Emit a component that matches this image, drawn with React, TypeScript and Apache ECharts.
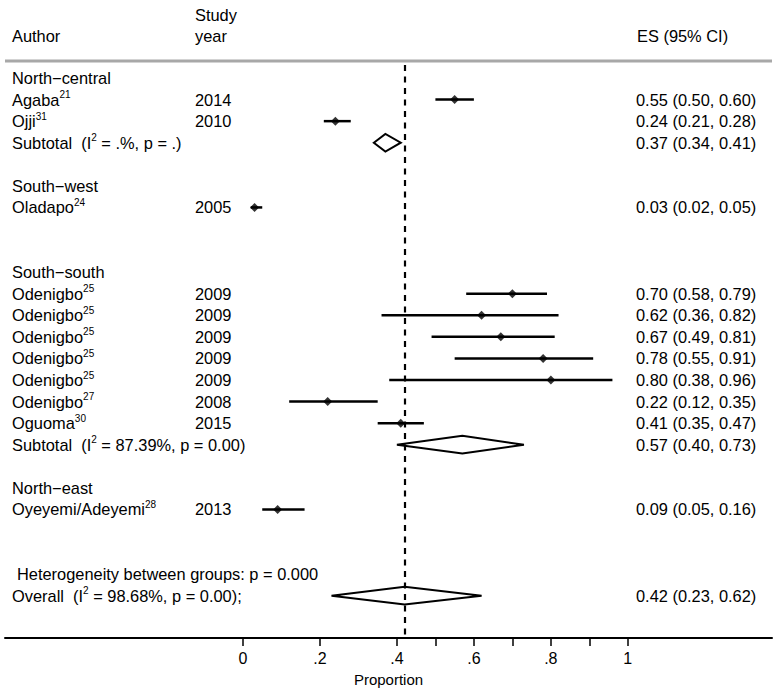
import React, { useEffect, useRef } from "react";
import * as echarts from "echarts";

// ---- data ----
const groupNames = ["North−central", "South−west", "South−south", "North−east"];
const groupRows = [0, 5, 9, 19];

const studyAuthors = [
  "Agaba", "Ojji", "Oladapo", "Odenigbo", "Odenigbo", "Odenigbo",
  "Odenigbo", "Odenigbo", "Odenigbo", "Oguoma", "Oyeyemi/Adeyemi",
];
const studyRefs = ["21", "31", "24", "25", "25", "25", "25", "25", "27", "30", "28"];
const studyYears = ["2014", "2010", "2005", "2009", "2009", "2009", "2009", "2009", "2008", "2015", "2013"];
const studyRows = [1, 2, 6, 10, 11, 12, 13, 14, 15, 16, 20];
const studyES = [0.55, 0.24, 0.03, 0.7, 0.62, 0.67, 0.78, 0.8, 0.22, 0.41, 0.09];
const studyLo = [0.5, 0.21, 0.02, 0.58, 0.36, 0.49, 0.55, 0.38, 0.12, 0.35, 0.05];
const studyHi = [0.6, 0.28, 0.05, 0.79, 0.82, 0.81, 0.91, 0.96, 0.35, 0.47, 0.16];

const pooledPrefix = ["Subtotal", "Subtotal", "Overall"];
const pooledI2 = [".%", "87.39%", "98.68%"];
const pooledP = [".", "0.00", "0.00"];
const pooledSuffix = ["", "", ";"];
const pooledRows = [3, 17, 24];
const pooledES = [0.37, 0.57, 0.42];
const pooledLo = [0.34, 0.4, 0.23];
const pooledHi = [0.41, 0.73, 0.62];

const hetText = "Heterogeneity between groups: p = 0.000";
const hetRow = 23;

const tickValues = [0, 0.2, 0.4, 0.5, 0.6, 0.7, 0.8, 0.9, 1];
const labelValues = [0, 0.2, 0.4, 0.6, 0.8, 1];

// ---- style ----
const FONT = "'Liberation Sans', Arial, Helvetica, sans-serif";
const FS = 16.4;
const rich = {
  n: { fontSize: FS, lineHeight: 20, fontFamily: FONT, color: "#000" },
  s: { fontSize: 10, lineHeight: 11, verticalAlign: "top", fontFamily: FONT, color: "#000" },
};
const fmt = (v: number) => v.toFixed(2);
const esText = (e: number, l: number, h: number) => `${fmt(e)} (${fmt(l)}, ${fmt(h)})`;

const COL_AUTHOR = 12;
const COL_YEAR = 195;
const COL_ES = 636;

export default function App() {
  const ref = useRef<HTMLDivElement>(null);

  useEffect(() => {
    if (!ref.current) return;
    const chart = echarts.init(ref.current, undefined, { renderer: "svg" });

    const textItems: number[][] = [];
    groupRows.forEach((r, k) => textItems.push([0, r, 0, k]));
    studyRows.forEach((r, k) => textItems.push([0, r, 1, k]));
    pooledRows.forEach((r, k) => textItems.push([0, r, 2, k]));
    textItems.push([0, hetRow, 3, 0]);

    const mkText = (x: number, y: number, text: string) => ({
      type: "text",
      x,
      y,
      style: { text, rich, align: "left", verticalAlign: "middle", fill: "#000" },
    });

    const option: any = {
      animation: false,
      backgroundColor: "#fff",
      grid: { left: 5, top: 65, width: 767, height: 573, containLabel: false },
      xAxis: {
        type: "value",
        min: -0.6185,
        max: 1.3747,
        axisLine: { show: true, onZero: false, lineStyle: { color: "#000", width: 2 } },
        axisTick: {
          show: true,
          customValues: tickValues,
          length: 8,
          lineStyle: { color: "#000", width: 1.5 },
        },
        axisLabel: {
          customValues: labelValues,
          formatter: (v: number) => (v === 0 ? "0" : v === 1 ? "1" : String(v).replace(/^0/, "")),
          fontSize: 16,
          color: "#000",
          fontFamily: FONT,
          margin: 12,
        },
        splitLine: { show: false },
        name: "Proportion",
        nameLocation: "middle",
        nameGap: 34,
        nameTextStyle: { fontSize: 15, color: "#000", fontFamily: FONT },
      },
      yAxis: {
        type: "value",
        inverse: true,
        min: -0.603,
        max: 25.96,
        show: false,
      },
      graphic: {
        elements: [
          { type: "rect", z: 100, shape: { x: 5, y: 59.5, width: 767, height: 3 }, style: { fill: "#a8a8a8", opacity: 1 } },
          { type: "text", x: COL_AUTHOR, y: 36, style: { text: "Author", fontSize: FS, fontFamily: FONT, fill: "#000", verticalAlign: "middle" } },
          { type: "text", x: COL_YEAR, y: 15, style: { text: "Study", fontSize: FS, fontFamily: FONT, fill: "#000", verticalAlign: "middle" } },
          { type: "text", x: COL_YEAR, y: 36, style: { text: "year", fontSize: FS, fontFamily: FONT, fill: "#000", verticalAlign: "middle" } },
          { type: "text", x: COL_ES + 1, y: 36, style: { text: "ES (95% CI)", fontSize: FS, fontFamily: FONT, fill: "#000", verticalAlign: "middle" } },
        ],
      },
      series: [
        // text columns
        {
          type: "custom",
          z: 1,
          clip: false,
          data: textItems,
          renderItem: (_p: any, api: any) => {
            const row = api.value(1);
            const kind = api.value(2);
            const k = api.value(3);
            const y = api.coord([0, row])[1];
            const children: any[] = [];
            if (kind === 0) {
              children.push(mkText(COL_AUTHOR, y, `{n|${groupNames[k]}}`));
            } else if (kind === 1) {
              children.push(mkText(COL_AUTHOR, y, `{n|${studyAuthors[k]}}{s|${studyRefs[k]}}`));
              children.push(mkText(COL_YEAR, y, `{n|${studyYears[k]}}`));
              children.push(mkText(COL_ES, y, `{n|${esText(studyES[k], studyLo[k], studyHi[k])}}`));
            } else if (kind === 2) {
              children.push(
                mkText(
                  COL_AUTHOR,
                  y,
                  `{n|${pooledPrefix[k]}  (I}{s|2}{n| = ${pooledI2[k]}, p = ${pooledP[k]})${pooledSuffix[k]}}`
                )
              );
              children.push(mkText(COL_ES, y, `{n|${esText(pooledES[k], pooledLo[k], pooledHi[k])}}`));
            } else {
              children.push(mkText(COL_AUTHOR + 5, y, `{n|${hetText}}`));
            }
            return { type: "group", children };
          },
        },
        // confidence intervals
        {
          type: "custom",
          z: 3,
          data: studyRows.map((r, k) => [studyLo[k], studyHi[k], r]),
          renderItem: (_p: any, api: any) => {
            const a = api.coord([api.value(0), api.value(2)]);
            const b = api.coord([api.value(1), api.value(2)]);
            return {
              type: "line",
              shape: { x1: a[0], y1: a[1], x2: b[0], y2: b[1] },
              style: { stroke: "#000", lineWidth: 2.5 },
            };
          },
        },
        // pooled diamonds
        {
          type: "custom",
          z: 2,
          data: pooledRows.map((r, k) => [pooledLo[k], pooledES[k], pooledHi[k], r]),
          renderItem: (_p: any, api: any) => {
            const r = api.value(3);
            const h = 0.41;
            const pts = [
              api.coord([api.value(0), r]),
              api.coord([api.value(1), r - h]),
              api.coord([api.value(2), r]),
              api.coord([api.value(1), r + h]),
            ];
            return {
              type: "polygon",
              shape: { points: pts },
              style: { fill: "#fff", stroke: "#000", lineWidth: 2 },
            };
          },
        },
        // point estimates + overall reference line
        {
          type: "scatter",
          z: 5,
          symbol: "diamond",
          symbolSize: 9,
          itemStyle: { color: "#000" },
          data: studyRows.map((r, k) => [studyES[k], r]),
          markLine: {
            silent: true,
            symbol: "none",
            label: { show: false },
            lineStyle: { color: "#000", width: 2.2, type: [6, 5.5] },
            data: [{ xAxis: pooledES[2] }],
          },
        },
      ],
    };

    chart.setOption(option);
    return () => chart.dispose();
  }, []);

  return (
    <div
      ref={ref}
      style={{ position: "absolute", left: 0, top: 0, width: 776, height: 692, background: "#fff" }}
    />
  );
}
